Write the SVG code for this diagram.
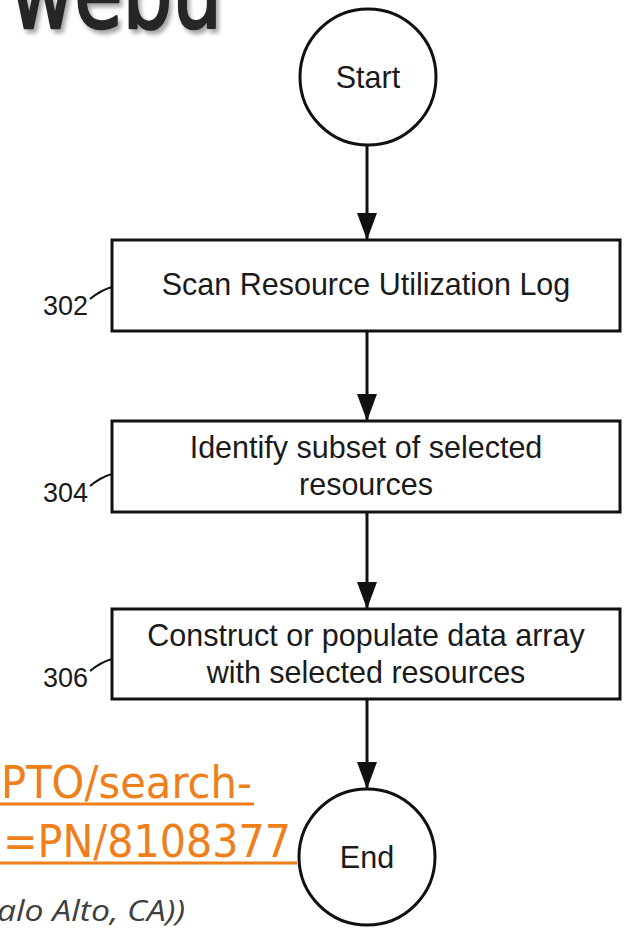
<svg xmlns="http://www.w3.org/2000/svg" width="630" height="928" viewBox="0 0 630 928">
  <style>
    .node { fill: #ffffff; stroke: #111111; stroke-width: 3; }
    .label { font-family: "Liberation Sans", Arial, sans-serif; font-size: 30.5px; fill: #1a1a1a; text-anchor: middle; }
    .ref { font-family: "Liberation Sans", Arial, sans-serif; font-size: 27px; fill: #1a1a1a; text-anchor: end; }
    .leader { fill: none; stroke: #111111; stroke-width: 2; }
    .flow { stroke: #111111; stroke-width: 3; fill: none; marker-end: url(#head); }
    .link { font-family: "DejaVu Sans", Tahoma, Verdana, sans-serif; font-size: 45px; fill: #EF7F1A; }
    .underline { stroke: #EF7F1A; stroke-width: 3; }
    .title { font-family: "DejaVu Sans", Tahoma, Verdana, sans-serif; font-size: 100px; stroke-width: 2.5; stroke-linejoin: round; }
    .note { font-family: "Open Sans", "Noto Sans", sans-serif; font-style: italic; font-size: 29px; fill: #404040; }
  </style>
  <defs>
    <!-- filled triangular arrowhead, tip at the end of the line -->
    <marker id="head" viewBox="0 0 27 20" refX="27" refY="10" markerWidth="27" markerHeight="20" markerUnits="userSpaceOnUse" orient="auto">
      <path d="M0,0 L27,10 L0,20 Z" fill="#111111"/>
    </marker>
    <filter id="soft" x="-10%" y="-50%" width="120%" height="200%">
      <feGaussianBlur stdDeviation="2"/>
    </filter>
  </defs>

  <rect width="630" height="928" fill="#ffffff"/>

  <!-- slide title fragment with drop shadow -->
  <g id="title">
    <text class="title" x="13" y="32" textLength="212" lengthAdjust="spacingAndGlyphs" fill="#000000" stroke="#000000" opacity="0.35" filter="url(#soft)">webu</text>
    <text class="title" x="10" y="28" textLength="212" lengthAdjust="spacingAndGlyphs" fill="#262626" stroke="#262626">webu</text>
  </g>

  <!-- connectors -->
  <g id="connectors">
    <line class="flow" x1="367" y1="146" x2="367" y2="240"/>
    <line class="flow" x1="367" y1="331" x2="367" y2="421"/>
    <line class="flow" x1="367" y1="512" x2="367" y2="609"/>
    <line class="flow" x1="367" y1="699" x2="367" y2="789"/>
  </g>

  <g id="start">
    <circle class="node" cx="368" cy="77" r="68"/>
    <text class="label" x="368" y="88">Start</text>
  </g>

  <g id="step-302">
    <rect class="node" x="112" y="240" width="508" height="91"/>
    <text class="label" x="366" y="295">Scan Resource Utilization Log</text>
    <path class="leader" d="M90,299 Q101,290 112,287"/>
    <text class="ref" x="88" y="315">302</text>
  </g>

  <g id="step-304">
    <rect class="node" x="112" y="421" width="508" height="91"/>
    <text class="label" x="366" y="458">Identify subset of selected</text>
    <text class="label" x="366" y="495">resources</text>
    <path class="leader" d="M90,486 Q101,477 112,474"/>
    <text class="ref" x="88" y="502">304</text>
  </g>

  <g id="step-306">
    <rect class="node" x="112" y="609" width="508" height="90"/>
    <text class="label" x="366" y="646">Construct or populate data array</text>
    <text class="label" x="366" y="683">with selected resources</text>
    <path class="leader" d="M90,671 Q101,662 112,659"/>
    <text class="ref" x="88" y="687">306</text>
  </g>

  <g id="end">
    <circle class="node" cx="367" cy="857" r="68"/>
    <text class="label" x="367" y="868">End</text>
  </g>

  <!-- hyperlink fragment -->
  <g id="link">
    <text class="link" x="1" y="798" textLength="251" lengthAdjust="spacingAndGlyphs">PTO/search-</text>
    <line class="underline" x1="0" y1="804" x2="254" y2="804"/>
    <text class="link" x="3" y="857" textLength="288" lengthAdjust="spacingAndGlyphs">=PN/8108377</text>
    <line class="underline" x1="0" y1="863" x2="297" y2="863"/>
  </g>

  <text class="note" x="-3" y="921" textLength="188" lengthAdjust="spacingAndGlyphs">alo Alto, CA))</text>
</svg>
